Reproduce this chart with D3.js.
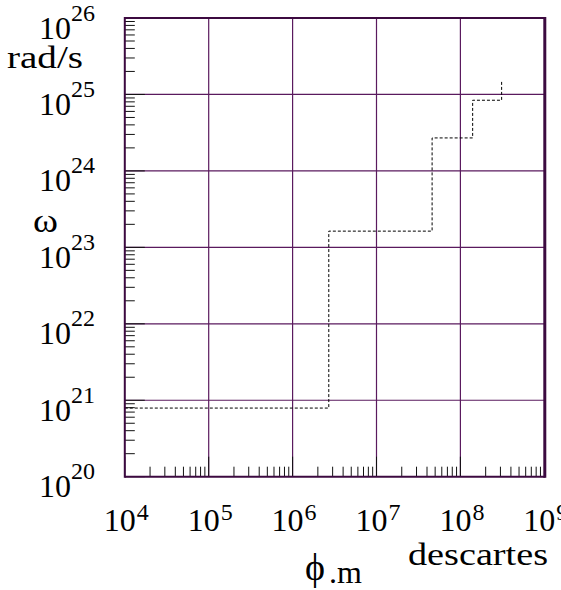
<!DOCTYPE html>
<html><head><meta charset="utf-8">
<script src="https://cdn.jsdelivr.net/npm/d3@7"></script>
<style>html,body{margin:0;padding:0;background:#fff;}svg{display:block;}
text{font-family:"Liberation Serif","Times New Roman",Times,serif;}</style>
</head><body>
<script>
// Data
const stepX = [1e4, 2.7e6, 4.6e7, 1.4e8, 3.1e8];
const stepY = [7.9e20, 1.63e23, 2.7e24, 8.4e24, 1.54e25];
const xTickExps = [4, 5, 6, 7, 8, 9];
const yTickExps = [20, 21, 22, 23, 24, 25, 26];
const xTitle = "descartes";
const xSubTitle = ["ϕ", ".m"];
const yTitle = "rad/s";
const ySymbol = "ω";

const W = 561, H = 590;
const svg = d3.select("body").append("svg").attr("width", W).attr("height", H);
const L = 124.8, R = 544.3, T = 18, B = 476.7;
const x = d3.scaleLog().domain([1e4, 1e9]).range([L, R]);
const y = d3.scaleLog().domain([1e20, 1e26]).range([B, T]);
const gridColor = "#5a1a5e";
const frameColor = "#3c0a40";

// grid
const g = svg.append("g");
xTickExps.slice(1, -1).forEach(e => {
  g.append("line").attr("x1", x(10 ** e)).attr("x2", x(10 ** e)).attr("y1", T).attr("y2", B)
    .attr("stroke", gridColor).attr("stroke-width", 1.2);
});
yTickExps.slice(1, -1).forEach(e => {
  g.append("line").attr("x1", L).attr("x2", R).attr("y1", y(10 ** e)).attr("y2", y(10 ** e))
    .attr("stroke", gridColor).attr("stroke-width", 1.2);
});

// ticks
const tk = svg.append("g").attr("stroke", "#111").attr("stroke-width", 1);
for (let e = 20; e < 26; e++) {
  for (let m = 1; m <= 9; m++) {
    const v = m * 10 ** e;
    const len = m === 1 ? 20 : 10;
    tk.append("line").attr("x1", L).attr("x2", L + len).attr("y1", y(v)).attr("y2", y(v));
  }
}
for (let e = 4; e < 9; e++) {
  for (let m = 1; m <= 9; m++) {
    const v = m * 10 ** e;
    const len = m === 1 ? 20 : 10;
    tk.append("line").attr("x1", x(v)).attr("x2", x(v)).attr("y1", B).attr("y2", B - len);
  }
}

// step line
const pts = stepX.map((d, i) => [d, stepY[i]]);
const line = d3.line().x(d => x(d[0])).y(d => y(d[1])).curve(d3.curveStepAfter);
svg.append("path").attr("d", line(pts)).attr("fill", "none").attr("stroke", "#000")
  .attr("stroke-width", 1).attr("stroke-dasharray", "3,2");

// frame
svg.append("line").attr("x1", L).attr("x2", L).attr("y1", T - 1).attr("y2", B + 1).attr("stroke", frameColor).attr("stroke-width", 2);
svg.append("line").attr("x1", L).attr("x2", R + 1).attr("y1", T).attr("y2", T).attr("stroke", frameColor).attr("stroke-width", 2);
svg.append("line").attr("x1", L).attr("x2", R + 1).attr("y1", B).attr("y2", B).attr("stroke", frameColor).attr("stroke-width", 2);
svg.append("line").attr("x1", R + 0.5).attr("x2", R + 0.5).attr("y1", T - 1).attr("y2", B + 1).attr("stroke", frameColor).attr("stroke-width", 3);

// y labels
const yl = svg.append("g").attr("fill", "#000");
yTickExps.forEach(e => {
  const yy = y(10 ** e);
  yl.append("text").attr("x", 71).attr("y", yy + 20.5).attr("text-anchor", "end")
    .attr("font-size", 32).text("10");
  yl.append("text").attr("x", 71).attr("y", yy + 2.5).attr("font-size", 24).text(String(e));
});
// x labels
xTickExps.forEach(e => {
  const xx = x(10 ** e);
  yl.append("text").attr("x", xx + 11).attr("y", 531).attr("text-anchor", "end")
    .attr("font-size", 32).text("10");
  yl.append("text").attr("x", xx + 12).attr("y", 520).attr("font-size", 24).text(String(e));
});

// titles
yl.append("text").attr("x", 7).attr("y", 68).attr("font-size", 32)
  .attr("textLength", 76).attr("lengthAdjust", "spacingAndGlyphs").text(yTitle);
yl.append("text").attr("x", 33).attr("y", 232).attr("font-size", 34)
  .attr("textLength", 25).attr("lengthAdjust", "spacingAndGlyphs").text(ySymbol);
yl.append("text").attr("x", 408).attr("y", 565).attr("font-size", 32)
  .attr("textLength", 140).attr("lengthAdjust", "spacingAndGlyphs").text(xTitle);
yl.append("text").attr("x", 305).attr("y", 580).attr("font-size", 38)
  .attr("textLength", 20).attr("lengthAdjust", "spacingAndGlyphs").text(xSubTitle[0]);
yl.append("text").attr("x", 329).attr("y", 583).attr("font-size", 32).text(xSubTitle[1]);
</script>
</body></html>
